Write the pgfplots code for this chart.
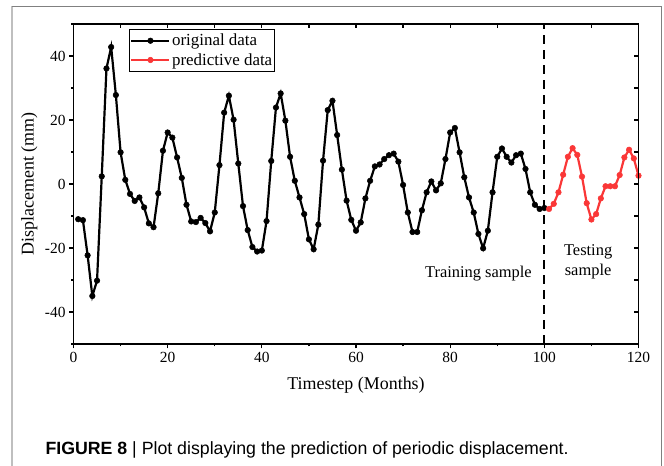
\documentclass[border=0pt]{standalone}
\usepackage{fontspec}
\setmainfont{Liberation Serif}
\newfontfamily\capfont{Liberation Sans}
\usepackage{pgfplots}
\pgfplotsset{compat=1.18}
\definecolor{myred}{RGB}{250,55,55}
\begin{document}
\begin{tikzpicture}
\useasboundingbox (0bp,0bp) rectangle (664bp,466bp);
\draw[color=black!25, line width=1.8bp] (12bp,-5bp) -- (12bp,460bp);
\draw[color=black!50, line width=0.8bp] (12bp,460bp) -- (661bp,460bp) -- (661bp,-5bp);
\begin{axis}[
  at={(73.5bp,122bp)}, anchor=south west,
  scale only axis, width=565bp, height=320bp,
  xmin=0, xmax=120, ymin=-50, ymax=50,
  xtick={0,20,...,120}, minor xtick={10,30,...,110},
  ytick={-40,-20,...,40}, minor ytick={-50,-30,...,50},
  tick pos=left, tick align=outside,
  major tick length=4.5bp, minor tick length=2.5bp,
  every tick/.style={black, line width=1.2bp},
  axis line style={line width=1.7bp},
  /pgf/number format/assume math mode=true,
  tick label style={font=\fontsize{15.5}{16}\selectfont},
  xlabel={Timestep (Months)}, ylabel={Displacement (mm)},
  label style={font=\fontsize{18}{20}\selectfont},
  xlabel style={at={(axis description cs:0.5,-0.128)}, anchor=center},
  ylabel style={at={(axis description cs:-0.078,0.5)}, anchor=center},
  legend style={at={(rel axis cs:0.098,0.984)}, anchor=north west,
    draw=black, line width=1bp, inner xsep=1bp, inner ysep=1.5bp,
    font=\fontsize{17}{19}\selectfont, row sep=0bp,
    nodes={inner xsep=1.5bp, inner ysep=3bp}},
  legend cell align=left,
  legend image code/.code={\draw[mark repeat=2,mark phase=2,#1] plot coordinates {(0bp,0bp) (19bp,0bp) (38bp,0bp)};},
]
\addplot[black, line width=2.2bp, mark=*, mark size=2.8bp, mark options={fill=black, line width=0.5bp}] coordinates {
(1,-11) (2,-11.3) (3,-22.3) (4,-35) (5,-30.2) (6,2.4) (7,36.1) (8,42.8) (9,27.8) (10,9.9)
(11,1.3) (12,-3.1) (13,-5.3) (14,-4.2) (15,-7.3) (16,-12.3) (17,-13.5) (18,-2.9) (19,10.4) (20,16.1)
(21,14.5) (22,8.3) (23,1.9) (24,-6.5) (25,-11.7) (26,-11.9) (27,-10.6) (28,-12.2) (29,-14.8) (30,-8.9)
(31,5.9) (32,22.3) (33,27.6) (34,20.1) (35,6.4) (36,-6.9) (37,-14.4) (38,-19.7) (39,-21.1) (40,-20.8)
(41,-11.6) (42,7.2) (43,23.9) (44,28.3) (45,19.8) (46,8.5) (47,1.0) (48,-4.2) (49,-9.4) (50,-17.3)
(51,-20.4) (52,-12.7) (53,7.3) (54,23.1) (55,26.0) (56,15.3) (57,4.5) (58,-5.2) (59,-11.2) (60,-14.6)
(61,-12.0) (62,-4.5) (63,1.0) (64,5.5) (65,6.1) (66,7.8) (67,9.0) (68,9.5) (69,7.0) (70,-0.3)
(71,-8.9) (72,-15.0) (73,-15.0) (74,-8.2) (75,-2.6) (76,0.8) (77,-2.0) (78,0.2) (79,7.8) (80,16.1)
(81,17.5) (82,9.9) (83,2.1) (84,-4.2) (85,-8.9) (86,-15.6) (87,-20.1) (88,-14.6) (89,-2.6) (90,8.5)
(91,11.1) (92,8.5) (93,6.7) (94,9.0) (95,9.5) (96,4.7) (97,-2.6) (98,-6.5) (99,-7.8) (100,-7.5)
};
\addlegendentry{original data}
\addplot[myred, line width=2.2bp, mark=*, mark size=2.8bp, mark phase=2, mark repeat=1, mark options={fill=myred, line width=0.5bp}] coordinates {
(100,-7.5) (101,-7.8) (102,-6.2) (103,-2.6) (104,2.9) (105,8.5) (106,11.2) (107,9.1) (108,2.3) (109,-6.0) (110,-11.1)
(111,-9.4) (112,-4.5) (113,-0.7) (114,-0.7) (115,-0.7) (116,2.8) (117,8.3) (118,10.7) (119,8.0) (120,2.6)
};
\addlegendentry{predictive data}
\addplot[black, line width=1.9bp, dash pattern=on 9bp off 6bp, forget plot] coordinates {(100,-50) (100,50)};
\node[font=\fontsize{16.5}{18}\selectfont] at (axis cs:86,-28) {Training sample};
\node[font=\fontsize{16.5}{20}\selectfont, align=center] at (axis cs:109.3,-24.2) {Testing\\sample};
\end{axis}
\begin{axis}[
  at={(73.5bp,122bp)}, anchor=south west,
  scale only axis, width=565bp, height=320bp,
  xmin=0, xmax=120, ymin=-50, ymax=50,
  axis x line*=top, axis y line*=right,
  xtick={10,20,...,110}, ytick={-40,-30,...,40},
  xticklabels={}, yticklabels={},
  tick align=inside, major tick length=4.5bp,
  every tick/.style={black, line width=1.2bp},
  axis line style={line width=1.7bp},
]
\end{axis}
\node[anchor=base west, font=\capfont\fontsize{17.8}{19}\selectfont] at (42bp,12bp) {\textbf{FIGURE 8} | Plot displaying the prediction of periodic displacement.};
\end{tikzpicture}
\end{document}
